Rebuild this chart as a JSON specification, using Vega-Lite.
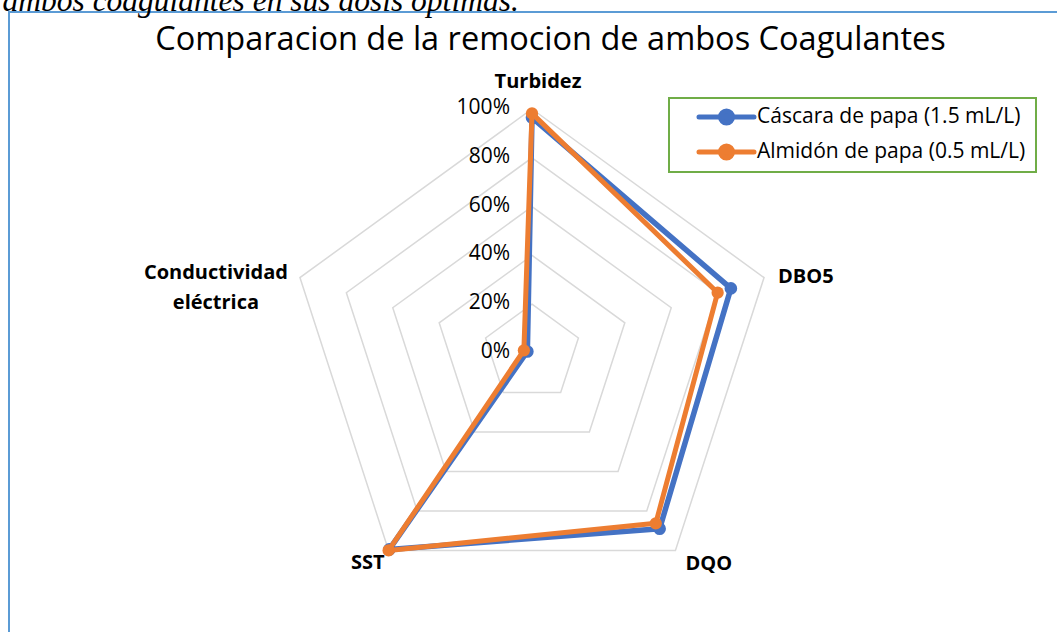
{
  "$schema": "https://vega.github.io/schema/vega-lite/v6.json",
  "autosize": {"type": "none"},
  "padding": {"left": 9, "top": 12, "right": 0, "bottom": 0},
  "width": 1060,
  "height": 630,
  "background": "white",
  "config": {"view": {"stroke": "#5b9bd5", "strokeWidth": 2}},
  "datasets": {
    "series": [
      {"serie": "Cáscara de papa (1.5 mL/L)", "eje": "Turbidez", "k": 0, "valor": 0.965},
      {"serie": "Cáscara de papa (1.5 mL/L)", "eje": "DBO5", "k": 1, "valor": 0.857},
      {"serie": "Cáscara de papa (1.5 mL/L)", "eje": "DQO", "k": 2, "valor": 0.89},
      {"serie": "Cáscara de papa (1.5 mL/L)", "eje": "SST", "k": 3, "valor": 0.995},
      {"serie": "Cáscara de papa (1.5 mL/L)", "eje": "Conductividad eléctrica", "k": 4, "valor": 0.02},
      {"serie": "Almidón de papa (0.5 mL/L)", "eje": "Turbidez", "k": 0, "valor": 0.982},
      {"serie": "Almidón de papa (0.5 mL/L)", "eje": "DBO5", "k": 1, "valor": 0.80},
      {"serie": "Almidón de papa (0.5 mL/L)", "eje": "DQO", "k": 2, "valor": 0.863},
      {"serie": "Almidón de papa (0.5 mL/L)", "eje": "SST", "k": 3, "valor": 1.0},
      {"serie": "Almidón de papa (0.5 mL/L)", "eje": "Conductividad eléctrica", "k": 4, "valor": 0.035}
    ],
    "ejes": [
      {"eje": "Turbidez", "k": 0},
      {"eje": "DBO5", "k": 1},
      {"eje": "DQO", "k": 2},
      {"eje": "SST", "k": 3},
      {"eje": "Conductividad\neléctrica", "k": 4}
    ],
    "niveles": [
      {"nivel": 0}, {"nivel": 0.2}, {"nivel": 0.4}, {"nivel": 0.6}, {"nivel": 0.8}, {"nivel": 1}
    ],
    "rejilla": [
      {"nivel": 0.2, "k": 0}, {"nivel": 0.2, "k": 1}, {"nivel": 0.2, "k": 2}, {"nivel": 0.2, "k": 3}, {"nivel": 0.2, "k": 4},
      {"nivel": 0.4, "k": 0}, {"nivel": 0.4, "k": 1}, {"nivel": 0.4, "k": 2}, {"nivel": 0.4, "k": 3}, {"nivel": 0.4, "k": 4},
      {"nivel": 0.6, "k": 0}, {"nivel": 0.6, "k": 1}, {"nivel": 0.6, "k": 2}, {"nivel": 0.6, "k": 3}, {"nivel": 0.6, "k": 4},
      {"nivel": 0.8, "k": 0}, {"nivel": 0.8, "k": 1}, {"nivel": 0.8, "k": 2}, {"nivel": 0.8, "k": 3}, {"nivel": 0.8, "k": 4},
      {"nivel": 1.0, "k": 0}, {"nivel": 1.0, "k": 1}, {"nivel": 1.0, "k": 2}, {"nivel": 1.0, "k": 3}, {"nivel": 1.0, "k": 4}
    ]
  },
  "encoding": {
    "x": {"field": "px", "type": "quantitative", "scale": {"domain": [-523, 537], "nice": false, "zero": false},
      "axis": {"orient": "top", "domain": false, "ticks": false, "labels": false, "grid": false,
        "title": "Comparacion de la remocion de ambos Coagulantes", "titleX": 541, "titleY": 37,
        "titleAlign": "center", "titleAnchor": "middle", "titleBaseline": "alphabetic", "titleFont": "Open Sans",
        "titleFontWeight": "normal", "titleFontSize": 32.5, "titleColor": "black"}},
    "y": {"field": "py", "type": "quantitative", "scale": {"domain": [-289, 341], "nice": false, "zero": false},
      "axis": {"orient": "left", "domain": false, "ticks": false, "labels": false, "grid": false,
        "title": "ambos coagulantes en sus dosis óptimas.", "titleAngle": 0, "titleX": -7, "titleY": -2,
        "titleAlign": "left", "titleBaseline": "alphabetic", "titleFont": "Liberation Serif",
        "titleFontStyle": "italic", "titleFontWeight": "normal", "titleFontSize": 31.5, "titleColor": "black"}}
  },
  "layer": [
    {
      "data": {"name": "rejilla"},
      "transform": [
        {"calculate": "PI/2 - datum.k*2*PI/5", "as": "ang"},
        {"calculate": "datum.nivel*244*cos(datum.ang)", "as": "px"},
        {"calculate": "datum.nivel*244*sin(datum.ang)", "as": "py"}
      ],
      "mark": {"type": "line", "interpolate": "linear-closed", "color": "#d9d9d9", "strokeWidth": 1.5},
      "encoding": {"detail": {"field": "nivel", "type": "nominal"}, "order": {"field": "k", "type": "quantitative"}}
    },
    {
      "data": {"name": "niveles"},
      "transform": [
        {"calculate": "0", "as": "px"},
        {"calculate": "datum.nivel*244", "as": "py"}
      ],
      "mark": {"type": "text", "align": "right", "baseline": "middle", "dx": -22, "dy": -1, "font": "Open Sans", "fontSize": 21, "color": "black"},
      "encoding": {"text": {"field": "nivel", "type": "quantitative", "format": ".0%"}}
    },
    {
      "data": {"name": "series"},
      "transform": [
        {"filter": "datum.serie == 'Cáscara de papa (1.5 mL/L)'"},
        {"calculate": "PI/2 - datum.k*2*PI/5", "as": "ang"},
        {"calculate": "datum.valor*244*cos(datum.ang)", "as": "px"},
        {"calculate": "datum.valor*244*sin(datum.ang)", "as": "py"}
      ],
      "layer": [
        {"mark": {"type": "line", "interpolate": "linear-closed", "strokeWidth": 5.5, "strokeJoin": "round", "strokeCap": "round"},
         "encoding": {"order": {"field": "k", "type": "quantitative"}}},
        {"mark": {"type": "point", "filled": true, "opacity": 1, "size": 160}}
      ],
      "encoding": {
        "color": {"field": "serie", "type": "nominal",
          "scale": {"domain": ["Cáscara de papa (1.5 mL/L)", "Almidón de papa (0.5 mL/L)"], "range": ["#4472c4", "#ed7d31"]},
          "legend": {"orient": "none", "legendX": 660, "legendY": 86, "title": null,
            "strokeColor": "#70ad47", "padding": 10, "fillColor": "white",
            "labelFont": "Open Sans", "labelFontSize": 21, "labelColor": "black", "labelLimit": 500,
            "symbolType": "M -5 0 L 5 0 M 1.1 0 A 1.1 1.1 0 1 1 -1.1 0 A 1.1 1.1 0 1 1 1.1 0 Z",
            "symbolSize": 121, "symbolStrokeWidth": 5, "symbolOffset": 37, "labelOffset": 20,
            "clipHeight": 18, "rowPadding": 14,
            "encode": {
              "legend": {"update": {"strokeWidth": {"value": 2}}},
              "symbols": {"update": {
              "fill": {"scale": "color", "field": "value"},
              "stroke": {"scale": "color", "field": "value"},
              "strokeWidth": {"value": 5}, "strokeCap": {"value": "round"}, "opacity": {"value": 1}}}}}
        }
      }
    },
    {
      "data": {"name": "series"},
      "transform": [
        {"filter": "datum.serie == 'Almidón de papa (0.5 mL/L)'"},
        {"calculate": "PI/2 - datum.k*2*PI/5", "as": "ang"},
        {"calculate": "datum.valor*244*cos(datum.ang)", "as": "px"},
        {"calculate": "datum.valor*244*sin(datum.ang)", "as": "py"}
      ],
      "layer": [
        {"mark": {"type": "line", "interpolate": "linear-closed", "strokeWidth": 5, "strokeJoin": "round", "strokeCap": "round"},
         "encoding": {"order": {"field": "k", "type": "quantitative"}}},
        {"mark": {"type": "point", "filled": true, "opacity": 1, "size": 150}}
      ],
      "encoding": {"color": {"field": "serie", "type": "nominal"}}
    },
    {
      "data": {"name": "ejes"},
      "transform": [
        {"filter": "datum.k == 0"},
        {"calculate": "PI/2 - datum.k*2*PI/5", "as": "ang"},
        {"calculate": "244*cos(datum.ang)", "as": "px"},
        {"calculate": "244*sin(datum.ang)", "as": "py"}
      ],
      "mark": {"type": "text", "align": "center", "baseline": "alphabetic", "dx": 6, "dy": -21, "font": "Open Sans", "fontWeight": "bold", "fontSize": 20, "color": "black"},
      "encoding": {"text": {"field": "eje", "type": "nominal"}}
    },
    {
      "data": {"name": "ejes"},
      "transform": [
        {"filter": "datum.k == 1"},
        {"calculate": "PI/2 - datum.k*2*PI/5", "as": "ang"},
        {"calculate": "244*cos(datum.ang)", "as": "px"},
        {"calculate": "244*sin(datum.ang)", "as": "py"}
      ],
      "mark": {"type": "text", "align": "left", "baseline": "middle", "dx": 14, "dy": -1, "font": "Open Sans", "fontWeight": "bold", "fontSize": 20, "color": "black"},
      "encoding": {"text": {"field": "eje", "type": "nominal"}}
    },
    {
      "data": {"name": "ejes"},
      "transform": [
        {"filter": "datum.k == 2"},
        {"calculate": "PI/2 - datum.k*2*PI/5", "as": "ang"},
        {"calculate": "244*cos(datum.ang)", "as": "px"},
        {"calculate": "244*sin(datum.ang)", "as": "py"}
      ],
      "mark": {"type": "text", "align": "left", "baseline": "alphabetic", "dx": 10, "dy": 20, "font": "Open Sans", "fontWeight": "bold", "fontSize": 20, "color": "black"},
      "encoding": {"text": {"field": "eje", "type": "nominal"}}
    },
    {
      "data": {"name": "ejes"},
      "transform": [
        {"filter": "datum.k == 3"},
        {"calculate": "PI/2 - datum.k*2*PI/5", "as": "ang"},
        {"calculate": "244*cos(datum.ang)", "as": "px"},
        {"calculate": "244*sin(datum.ang)", "as": "py"}
      ],
      "mark": {"type": "text", "align": "right", "baseline": "alphabetic", "dx": -4, "dy": 19, "font": "Open Sans", "fontWeight": "bold", "fontSize": 20, "color": "black"},
      "encoding": {"text": {"field": "eje", "type": "nominal"}}
    },
    {
      "data": {"name": "ejes"},
      "transform": [
        {"filter": "datum.k == 4"},
        {"calculate": "PI/2 - datum.k*2*PI/5", "as": "ang"},
        {"calculate": "244*cos(datum.ang)", "as": "px"},
        {"calculate": "244*sin(datum.ang)", "as": "py"}
      ],
      "mark": {"type": "text", "align": "center", "baseline": "middle", "lineBreak": "\n", "lineHeight": 30, "dx": -84, "dy": -5, "font": "Open Sans", "fontWeight": "bold", "fontSize": 20, "color": "black"},
      "encoding": {"text": {"field": "eje", "type": "nominal"}}
    }
  ]
}
